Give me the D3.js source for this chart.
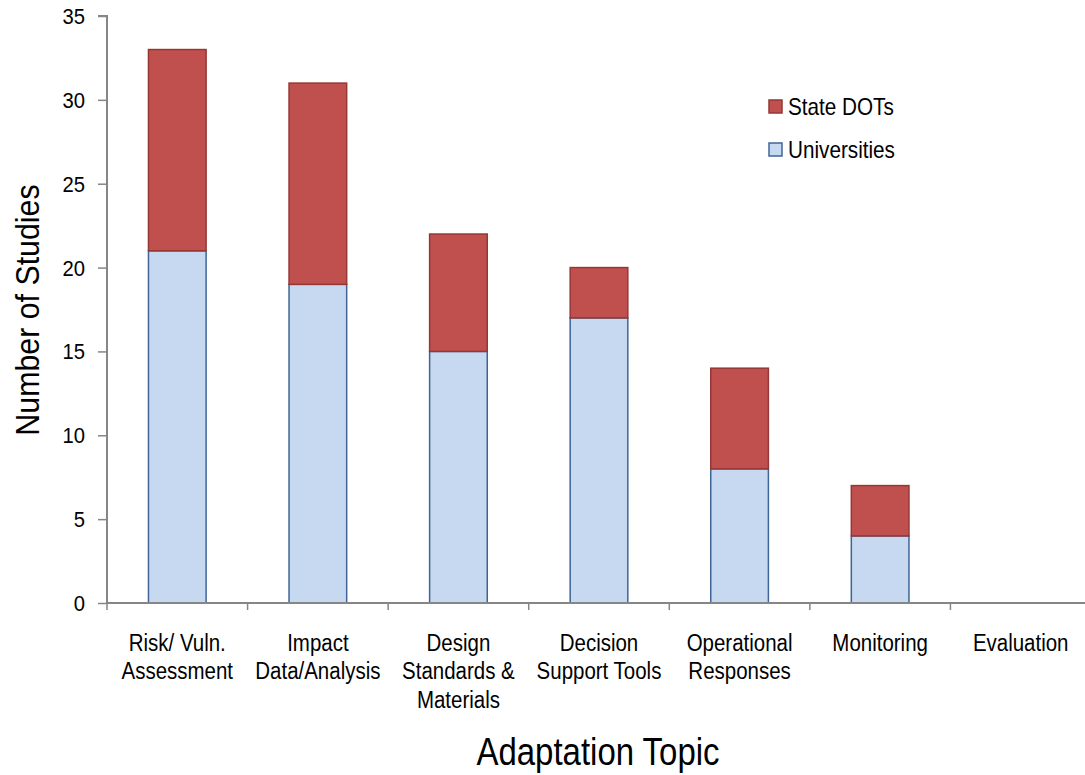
<!DOCTYPE html>
<html><head><meta charset="utf-8">
<script src="https://cdn.jsdelivr.net/npm/d3@7"></script>
<style>body{margin:0;background:#fff}svg{display:block}text{font-family:"Liberation Sans","Arial",sans-serif;fill:#000}</style>
</head><body><svg id="c" width="1085" height="775"></svg>
<script>
const categories = [["Risk/ Vuln.","Assessment"],["Impact","Data/Analysis"],["Design","Standards &","Materials"],["Decision","Support Tools"],["Operational","Responses"],["Monitoring"],["Evaluation"]];
const universities = [21, 19, 15, 17, 8, 4, 0];
const stateDOTs = [12, 12, 7, 3, 6, 3, 0];
const yTicks = [0, 5, 10, 15, 20, 25, 30, 35];
const seriesNames = ["State DOTs", "Universities"];

const svg = d3.select("#c");
const L = 107, R = 1091, T = 16, B = 603;
const x = d3.scaleBand().domain(d3.range(categories.length)).range([L, R]).paddingInner(0.59).paddingOuter(0.295);
const band = (R - L) / categories.length;
const y = d3.scaleLinear().domain([0, 35]).range([B, T]);

// narrow text helper
function ntext(px, py, lines, size, sx, anchor, lh, rot) {
  const t = svg.append("text")
    .attr("transform", `translate(${px},${py})${rot ? " rotate(" + rot + ")" : ""} scale(${sx},1)`)
    .attr("text-anchor", anchor).style("font-size", size + "px");
  lines.forEach((ln, k) => t.append("tspan").attr("x", 0).attr("dy", k ? lh : 0).text(ln));
  return t;
}

// y axis
const ya = svg.append("g").attr("transform", `translate(${L},0)`)
  .call(d3.axisLeft(y).tickValues(yTicks).tickSize(9).tickFormat(""));
ya.select(".domain").attr("stroke", "#868686").attr("stroke-width", 2).attr("d", `M-9,${T}H0V${B}`);
ya.selectAll(".tick line").attr("stroke", "#868686").attr("stroke-width", 1.5);
yTicks.forEach(v => ntext(L - 22, y(v) + 8, [String(v)], 22, 0.92, "end", 0));

// bars
const g = svg.append("g");
categories.forEach((c, i) => {
  const u = universities[i], s = stateDOTs[i];
  if (u > 0) g.append("rect").attr("x", x(i)).attr("width", x.bandwidth())
    .attr("y", y(u)).attr("height", y(0) - y(u))
    .attr("fill", "#C6D9F1").attr("stroke", "#3F6596").attr("stroke-width", 1.5);
  if (s > 0) g.append("rect").attr("x", x(i)).attr("width", x.bandwidth())
    .attr("y", y(u + s)).attr("height", y(u) - y(u + s))
    .attr("fill", "#C0504D").attr("stroke", "#953735").attr("stroke-width", 1.5);
});

// x axis
svg.append("line").attr("x1", L).attr("x2", R).attr("y1", B).attr("y2", B)
  .attr("stroke", "#868686").attr("stroke-width", 2);
d3.range(categories.length + 1).forEach(i => {
  const xx = L + i * band;
  svg.append("line").attr("x1", xx).attr("x2", xx).attr("y1", B).attr("y2", B + 7)
    .attr("stroke", "#868686").attr("stroke-width", 1.5);
});
categories.forEach((lines, i) => {
  ntext(x(i) + x.bandwidth() / 2, 651, lines, 23, 0.89, "middle", 28.5);
});

// axis titles
ntext(598, 765, ["Adaptation Topic"], 39, 0.845, "middle", 0);
ntext(39, 310, ["Number of Studies"], 33, 0.92, "middle", 0, -90);

// legend
const leg = [{n: seriesNames[0], f: "#C0504D", s: "#953735", y: 100}, {n: seriesNames[1], f: "#C6D9F1", s: "#3F6596", y: 143}];
leg.forEach(d => {
  svg.append("rect").attr("x", 769).attr("y", d.y).attr("width", 13).attr("height", 13)
    .attr("fill", d.f).attr("stroke", d.s).attr("stroke-width", 1.5);
  ntext(788, d.y + 15, [d.n], 23, 0.9, "start", 0);
});
</script></body></html>
